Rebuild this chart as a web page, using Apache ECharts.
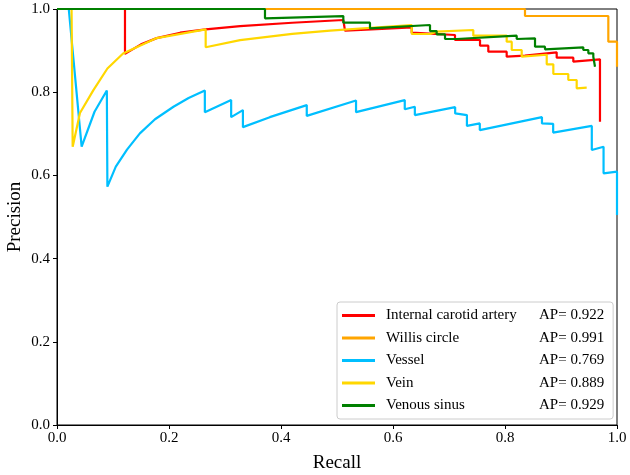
<!DOCTYPE html>
<html>
<head>
<meta charset="utf-8">
<script src="https://cdn.jsdelivr.net/npm/echarts@6/dist/echarts.min.js"></script>
<style>html,body{margin:0;padding:0;background:#fff}#c{width:630px;height:475px}</style>
</head>
<body>
<div id="c"></div>
<script>
const seriesNames = ['Internal carotid artery', 'Willis circle', 'Vessel', 'Vein', 'Venous sinus'];
const apValues = ['0.922', '0.991', '0.769', '0.889', '0.929'];
const xTicks = [0, 0.2, 0.4, 0.6, 0.8, 1.0];

const internalCarotid = [[0.1214,1.0],[0.1214,0.892],[0.15,0.915],[0.178,0.930],[0.22,0.943],[0.2655,0.951],[0.327,0.959],[0.42,0.967],[0.5113,0.9736],[0.5143,0.9736],[0.5143,0.9478],[0.58,0.952],[0.6334,0.956],[0.6334,0.943],[0.7107,0.9375],[0.7107,0.9255],[0.7554,0.9255],[0.7554,0.9118],[0.7702,0.9118],[0.7702,0.8974],[0.8030,0.8974],[0.8030,0.8853],[0.8357,0.8877],[0.8923,0.8959],[0.8923,0.8829],[0.9220,0.8829],[0.9220,0.8733],[0.9696,0.8791],[0.9696,0.7291]];
const willisCircle = [[0,1.0],[0.8357,1.0],[0.8357,0.9832],[0.9845,0.9832],[0.9845,0.9214],[1.0,0.9214],[1.0,0.8613]];
const vessel = [[0.021,1.0],[0.044,0.669],[0.067,0.753],[0.089,0.804],[0.090,0.573],[0.105,0.621],[0.125,0.662],[0.148,0.701],[0.175,0.735],[0.208,0.765],[0.235,0.786],[0.264,0.804],[0.264,0.752],[0.311,0.781],[0.311,0.740],[0.332,0.757],[0.332,0.716],[0.38,0.740],[0.446,0.769],[0.446,0.743],[0.534,0.780],[0.534,0.752],[0.621,0.781],[0.621,0.759],[0.639,0.765],[0.639,0.745],[0.711,0.764],[0.711,0.749],[0.732,0.745],[0.732,0.719],[0.755,0.725],[0.755,0.709],[0.866,0.740],[0.866,0.725],[0.886,0.724],[0.886,0.703],[0.955,0.719],[0.955,0.661],[0.976,0.669],[0.976,0.605],[1.0,0.609],[1.0,0.505]];
const vein = [[0.026,1.0],[0.028,0.669],[0.041,0.75],[0.065,0.805],[0.09,0.857],[0.118,0.893],[0.178,0.93],[0.2655,0.951],[0.2655,0.908],[0.327,0.925],[0.42,0.94],[0.4875,0.9478],[0.6334,0.9615],[0.6334,0.9399],[0.6661,0.9399],[0.678,0.9454],[0.7434,0.9495],[0.7434,0.9358],[0.803,0.9358],[0.803,0.9214],[0.812,0.9214],[0.812,0.9014],[0.8298,0.9014],[0.8298,0.8853],[0.8745,0.89],[0.8745,0.8671],[0.8863,0.8671],[0.8863,0.8438],[0.913,0.8438],[0.913,0.8293],[0.928,0.8293],[0.928,0.8094],[0.9459,0.8108]];
const venousSinus = [[0,1.0],[0.3714,1.0],[0.3714,0.9776],[0.5113,0.983],[0.5113,0.9671],[0.5589,0.9671],[0.5589,0.9536],[0.6661,0.9615],[0.6661,0.947],[0.678,0.947],[0.678,0.9392],[0.6929,0.9392],[0.6929,0.9279],[0.7137,0.9279],[0.8209,0.9358],[0.8209,0.9279],[0.8536,0.9296],[0.8536,0.9094],[0.8714,0.9094],[0.8714,0.9031],[0.9398,0.9079],[0.9398,0.9014],[0.9488,0.9014],[0.9488,0.8935],[0.9577,0.8935],[0.9577,0.8853],[0.9607,0.8853],[0.9607,0.8613]];

const seriesData = [internalCarotid, willisCircle, vessel, vein, venousSinus];
const colors = ['#ff0000', '#ffa500', '#00bfff', '#ffd700', '#008000'];
const FONT = '"Liberation Serif", "Times New Roman", serif';

const chart = echarts.init(document.getElementById('c'), null, {renderer: 'canvas'});
const apMap = {};
seriesNames.forEach((n, i) => apMap[n] = apValues[i]);

chart.setOption({
  animation: false,
  backgroundColor: '#fff',
  grid: {left: 57, right: 13, top: 9, bottom: 50, containLabel: false, outerBoundsMode: 'none',
    show: true, borderColor: '#000', borderWidth: 1, backgroundColor: 'transparent'},
  xAxis: {
    type: 'value', min: 0, max: 1, interval: 0.2,
    name: 'Recall', nameLocation: 'middle', nameGap: 29,
    nameTextStyle: {fontFamily: FONT, fontSize: 19, color: '#000'},
    axisLine: {show: true, lineStyle: {color: '#000', width: 1}},
    axisTick: {show: true, length: 4, lineStyle: {color: '#000'}},
    axisLabel: {fontFamily: FONT, fontSize: 15, color: '#000', margin: 6,
      formatter: v => { const t = xTicks.find(k => Math.abs(k - v) < 1e-9); return (t !== undefined ? t : v).toFixed(1); }},
    splitLine: {show: false}
  },
  yAxis: {
    type: 'value', min: 0, max: 1, interval: 0.2,
    name: 'Precision', nameLocation: 'middle', nameGap: 32, nameMoveOverlap: false,
    nameTextStyle: {fontFamily: FONT, fontSize: 19, color: '#000'},
    axisLine: {show: true, lineStyle: {color: '#000', width: 1}},
    axisTick: {show: true, length: 4, lineStyle: {color: '#000'}},
    axisLabel: {fontFamily: FONT, fontSize: 15, color: '#000', margin: 7, formatter: v => v.toFixed(1)},
    splitLine: {show: false}
  },
  legend: {
    orient: 'vertical', left: 337, top: 302,
    data: seriesNames,
    icon: 'path://M0,0 L33,0 L33,3 L0,3 Z',
    itemWidth: 33, itemHeight: 3, itemGap: 7.5,
    padding: [6, 9, 6, 5],
    backgroundColor: 'rgba(255,255,255,0.85)',
    borderColor: '#cccccc', borderWidth: 1, borderRadius: 3,
    textStyle: {fontFamily: FONT, fontSize: 15, color: '#000',
      rich: {a: {fontFamily: FONT, fontSize: 15, color: '#000', width: 153, padding: [0, 0, 0, 6]},
             b: {fontFamily: FONT, fontSize: 15, color: '#000'}}},
    formatter: name => '{a|' + name + '}{b|AP= ' + apMap[name] + '}'
  },
  series: seriesNames.map((n, i) => ({
    name: n, type: 'line', data: seriesData[i],
    showSymbol: false, symbol: 'none', clip: false,
    color: colors[i],
    lineStyle: {color: colors[i], width: 2.2},
    itemStyle: {color: colors[i]},
    z: 2
  }))
});
</script>
</body>
</html>
